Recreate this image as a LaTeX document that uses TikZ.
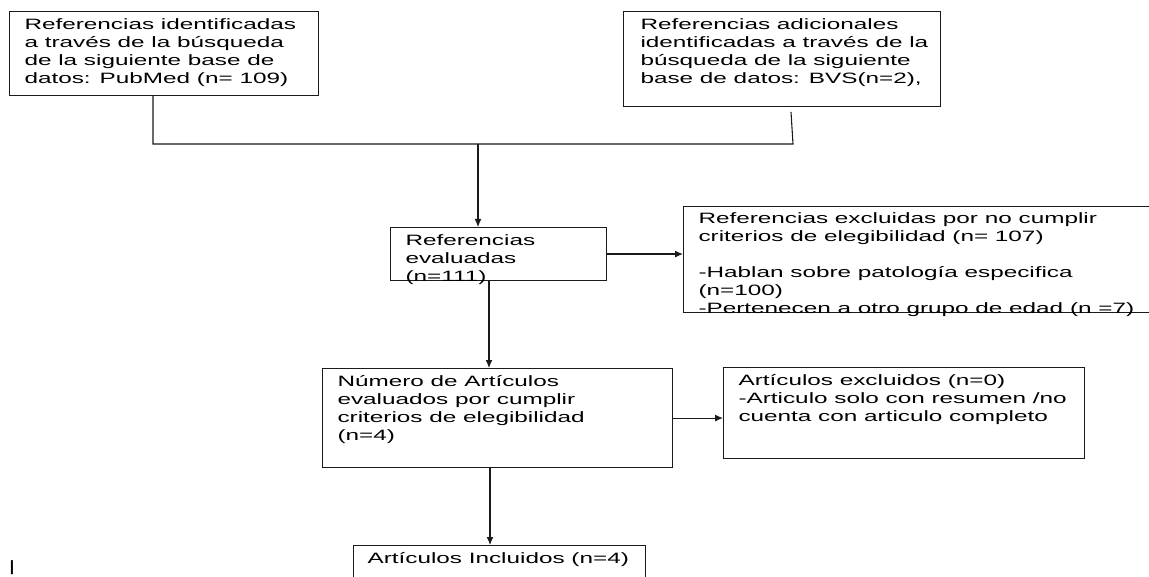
\documentclass[tikz,border=0pt]{standalone}
\usepackage{fontspec}
\setmainfont{Liberation Sans}[FakeStretch=1.62]
\usepackage{tikz}
\usetikzlibrary{arrows.meta,positioning}
\definecolor{flowline}{HTML}{1A1A1A}
\tikzset{
  box/.style={draw=flowline,line width=1.1bp,fill=white,anchor=north west,inner xsep=15bp,inner ysep=5bp},
  ln/.style={draw=flowline,line width=1.1bp},
  ar/.style={ln,-{Latex[length=8bp,width=7bp]}},
}
\newcommand{\flowtxt}[3]{\parbox[t][#2][t]{#1}{\begin{tabular}[t]{@{}l@{}}#3\end{tabular}}}

\begin{document}
\begin{tikzpicture}[x=1bp,y=-1bp,font=\fontsize{15bp}{18bp}\selectfont]
  \useasboundingbox (0,0) rectangle (1149,577);
  % sources
  \node[box] (refpub) at (9,11) {\flowtxt{279bp}{74bp}{Referencias identificadas\\a través de la búsqueda\\de la siguiente base de\\datos: PubMed (n= 109)}};
  \node[box,inner xsep=17bp] (refbvs) at (623,11) {\flowtxt{283bp}{85bp}{Referencias adicionales\\identificadas a través de la\\búsqueda de la siguiente\\base de datos: BVS(n=2),}};
  % screening
  \node[box] (evalref) at (390,227) {\flowtxt{186bp}{43bp}{Referencias\\evaluadas\\(n=111)}};
  \node[box,inner ysep=4bp] (exclref) at (683,206) {\flowtxt{440bp}{98bp}{Referencias excluidas por no cumplir\\criterios de elegibilidad (n= 107)\\[18bp]-Hablan sobre patología especifica\\(n=100)\\-Pertenecen a otro grupo de edad (n =7)}};
  \node[box] (evalart) at (322,368) {\flowtxt{320bp}{89bp}{Número de Artículos\\evaluados por cumplir\\criterios de elegibilidad\\(n=4)}};
  \node[box] (exclart) at (723,367) {\flowtxt{331bp}{81bp}{Artículos excluidos (n=0)\\-Articulo solo con resumen /no\\cuenta con articulo completo}};
  \node[box,inner xsep=14bp] (inclart) at (353,545) {\flowtxt{264bp}{30bp}{Artículos Incluidos (n=4)}};
  \node[inner sep=0pt] (cursor) at (12,568) {|};
  % joins
  \coordinate (joinL) at (153,144);
  \coordinate (joinR) at (793,144);
  \coordinate (gapR) at (791,112);
  \coordinate (joinM) at (478,144);
  \draw[ln] (refpub.south -| joinL) -- (joinL) -- (joinR) -- (gapR);
  \draw[ar] (joinM) -- (joinM |- evalref.north);
  \draw[ar] (evalref.east) -- (evalref.east -| exclref.west);
  \draw[ar] (evalref.south -| 489,0) -- (evalart.north -| 489,0);
  \draw[ar] (evalart.east) -- (evalart.east -| exclart.west);
  \draw[ar] (evalart.south -| 490,0) -- (inclart.north -| 490,0);
\end{tikzpicture}
\end{document}
